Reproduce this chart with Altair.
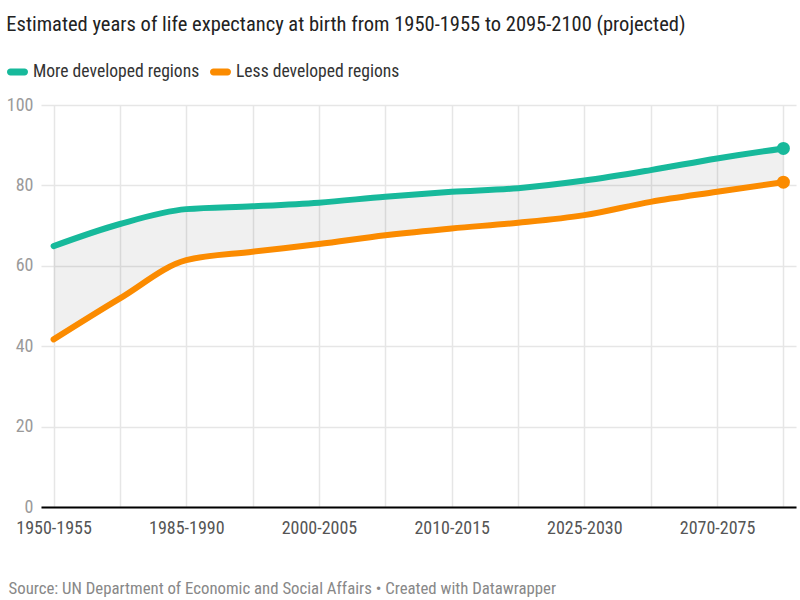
import altair as alt
import pandas as pd

periods = ["1950-1955", "1970-1975", "1985-1990", "1990-1995", "2000-2005", "2005-2010",
           "2010-2015", "2020-2025", "2025-2030", "2045-2050", "2070-2075", "2095-2100"]
shown_labels = ["1950-1955", "1985-1990", "2000-2005", "2010-2015", "2025-2030", "2070-2075"]
more_developed = [64.9, 70.4, 74.1, 74.8, 75.7, 77.2, 78.4, 79.3, 81.2, 83.8, 86.7, 89.2]
less_developed = [41.7, 51.9, 61.4, 63.5, 65.4, 67.6, 69.3, 70.7, 72.6, 75.9, 78.4, 80.8]
series = ["More developed regions", "Less developed regions"]
colors = ["#17b99b", "#fb8b00"]

FONT = "Roboto Condensed, Liberation Sans Narrow, DejaVu Sans Condensed, sans-serif"

wide = pd.DataFrame({"period": periods, "more": more_developed, "less": less_developed})
long = pd.concat([
    pd.DataFrame({"period": periods, "region": series[0], "value": more_developed}),
    pd.DataFrame({"period": periods, "region": series[1], "value": less_developed}),
])

label_expr = "indexof(" + str(shown_labels) + ", datum.value) >= 0 ? datum.label : ''"

x_enc = alt.X(
    "period:N", sort=periods,
    scale=alt.Scale(type="point", padding=0.19),
    axis=alt.Axis(
        labelAngle=0, labelExpr=label_expr, labelFontSize=18, labelColor="#555555",
        labelFont=FONT, labelPadding=12, ticks=False, domainColor="#000000", domainWidth=2,
        grid=True, gridColor="#e6e6e6", gridWidth=1.5,
        title="Source: UN Department of Economic and Social Affairs \u2022 Created with Datawrapper",
        titleFont=FONT, titleFontSize=16.8, titleFontWeight="normal", titleColor="#888888",
        titleAlign="left", titleAnchor="start", titleX=-33, titleY=81, titleBaseline="middle",
    ),
)
y_scale = alt.Scale(domain=[0, 100])
y_axis = alt.Axis(
    values=[0, 20, 40, 60, 80, 100], labelFontSize=18, labelColor="#9a9a9a", labelFont=FONT,
    labelPadding=8, ticks=False, domain=False, gridColor="#e6e6e6", gridWidth=1.5, title=None,
)

area = alt.Chart(wide).mark_area(interpolate="monotone", color="#000000", opacity=0.06).encode(
    x=x_enc,
    y=alt.Y("more:Q", scale=y_scale, axis=y_axis),
    y2="less:Q",
)

pill = "M-0.67,-0.33L0.67,-0.33A0.33,0.33 0 0 1 0.67,0.33L-0.67,0.33A0.33,0.33 0 0 1 -0.67,-0.33Z"

legend = alt.Legend(
    title=None, orient="none", legendX=-34, legendY=-44, direction="horizontal",
    symbolType=pill, symbolSize=441, symbolOpacity=1, symbolStrokeWidth=0,
    labelFont=FONT, labelFontSize=17.6, labelColor="#333333", labelOffset=5, labelLimit=400,
    columnPadding=10,
)

lines = alt.Chart(long).mark_line(interpolate="monotone", strokeWidth=6, strokeCap="round").encode(
    x=alt.X("period:N", sort=periods),
    y=alt.Y("value:Q"),
    stroke=alt.Stroke("region:N", scale=alt.Scale(domain=series, range=colors), legend=legend),
    detail="region:N",
)

points = alt.Chart(long).transform_filter(
    alt.datum.period == periods[-1]
).mark_point(filled=True, size=170, opacity=1).encode(
    x=alt.X("period:N", sort=periods),
    y=alt.Y("value:Q"),
    fill=alt.Fill("region:N", scale=alt.Scale(domain=series, range=colors), legend=legend),
)

chart = alt.layer(area, lines, points).properties(
    width=755, height=402,
    title=alt.Title(
        "Estimated years of life expectancy at birth from 1950-1955 to 2095-2100 (projected)",
        anchor="start", frame="bounds", font=FONT, fontSize=20.5, fontWeight="normal",
        color="#222222", offset=26,
    ),
    autosize=alt.AutoSizeParams(type="none"),
    padding={"left": 41, "top": 105, "right": 4, "bottom": 93},
).configure_view(stroke=None)

chart.save("out.html", embed_options={"renderer": "svg", "actions": False})
